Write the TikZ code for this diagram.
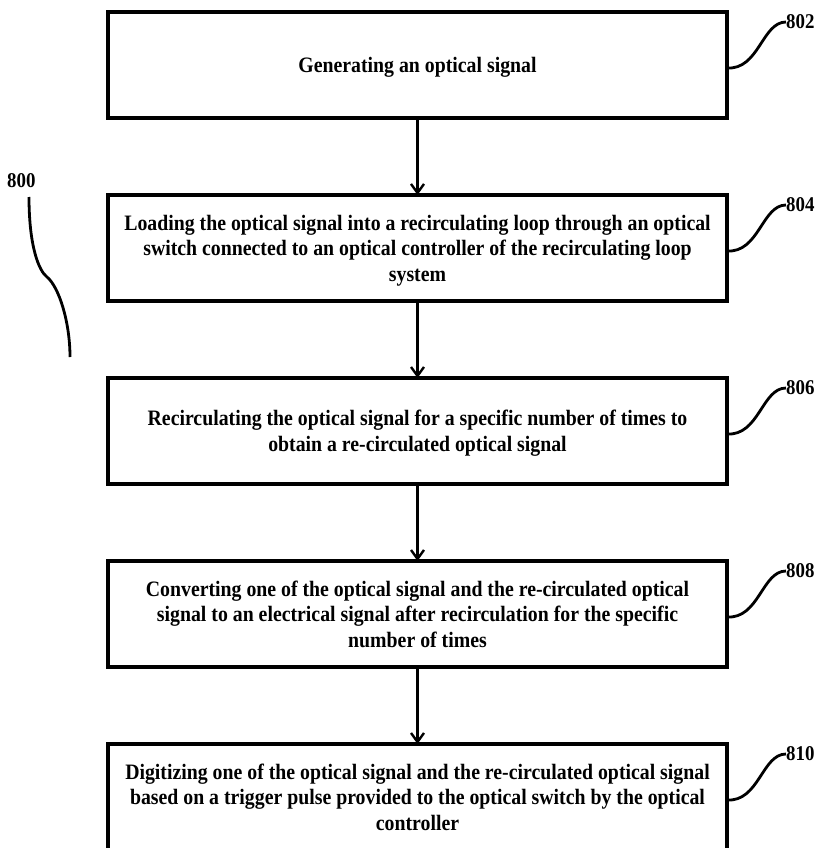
\documentclass[tikz,border=0pt]{standalone}
\usepackage{fontspec}
\setmainfont{Liberation Serif}[FakeStretch=0.9]
\usepackage{tikz}
\usetikzlibrary{arrows.meta, positioning}
\tikzset{
  stepbox/.style={rectangle, draw, line width=4.6pt, minimum width=619pt, minimum height=106pt, outer sep=0pt, align=center, text depth=-5pt, font=\bfseries\fontsize{22}{25.5}\selectfont},
  arrow/.style={-{Straight Barb[length=9pt,width=13pt,line width=2.4pt]}, line width=2.3pt},
  leader/.style={line width=2.8pt},
  reflabel/.style={font=\bfseries\fontsize{21}{22}\selectfont, inner sep=0pt, anchor=west},
}

\begin{document}
\begin{tikzpicture}[x=1pt, y=-1pt, node distance=77pt]
    \clip (0,0) rectangle (819,848);
    \node[stepbox] (gen) at (417.5,65) {Generating an optical signal};
    \node[stepbox, below=of gen] (load) {Loading the optical signal into a recirculating loop through an optical\\switch connected to an optical controller of the recirculating loop\\system};
    \node[stepbox, below=of load] (recirc) {Recirculating the optical signal for a specific number of times to\\obtain a re-circulated optical signal};
    \node[stepbox, below=of recirc] (conv) {Converting one of the optical signal and the re-circulated optical\\signal to an electrical signal after recirculation for the specific\\number of times};
    \node[stepbox, below=of conv] (digit) {Digitizing one of the optical signal and the re-circulated optical signal\\based on a trigger pulse provided to the optical switch by the optical\\controller};
    \draw[arrow] (gen) -- (load);
    \draw[arrow] (load) -- (recirc);
    \draw[arrow] (recirc) -- (conv);
    \draw[arrow] (conv) -- (digit);
    % reference numerals
    \foreach \stp/\num in {gen/802, load/804, recirc/806, conv/808, digit/810} {
      \node[reflabel] (l\num) at ([xshift=59pt, yshift=43pt]\stp.east) {\num};
      \draw[leader] ([yshift=-3pt]\stp.east) .. controls +(32pt,-2pt) and +(-24pt,0pt) .. (l\num.west);
    }
    \node[reflabel] (l800) at (7,181) {800};
    \coordinate (tail) at (70,357);
    \draw[leader] (29,197) .. controls +(0,50) and +(-8,-6) .. (47,277) .. controls +(12,10) and +(0,-35) .. (tail);
\end{tikzpicture}
\end{document}
